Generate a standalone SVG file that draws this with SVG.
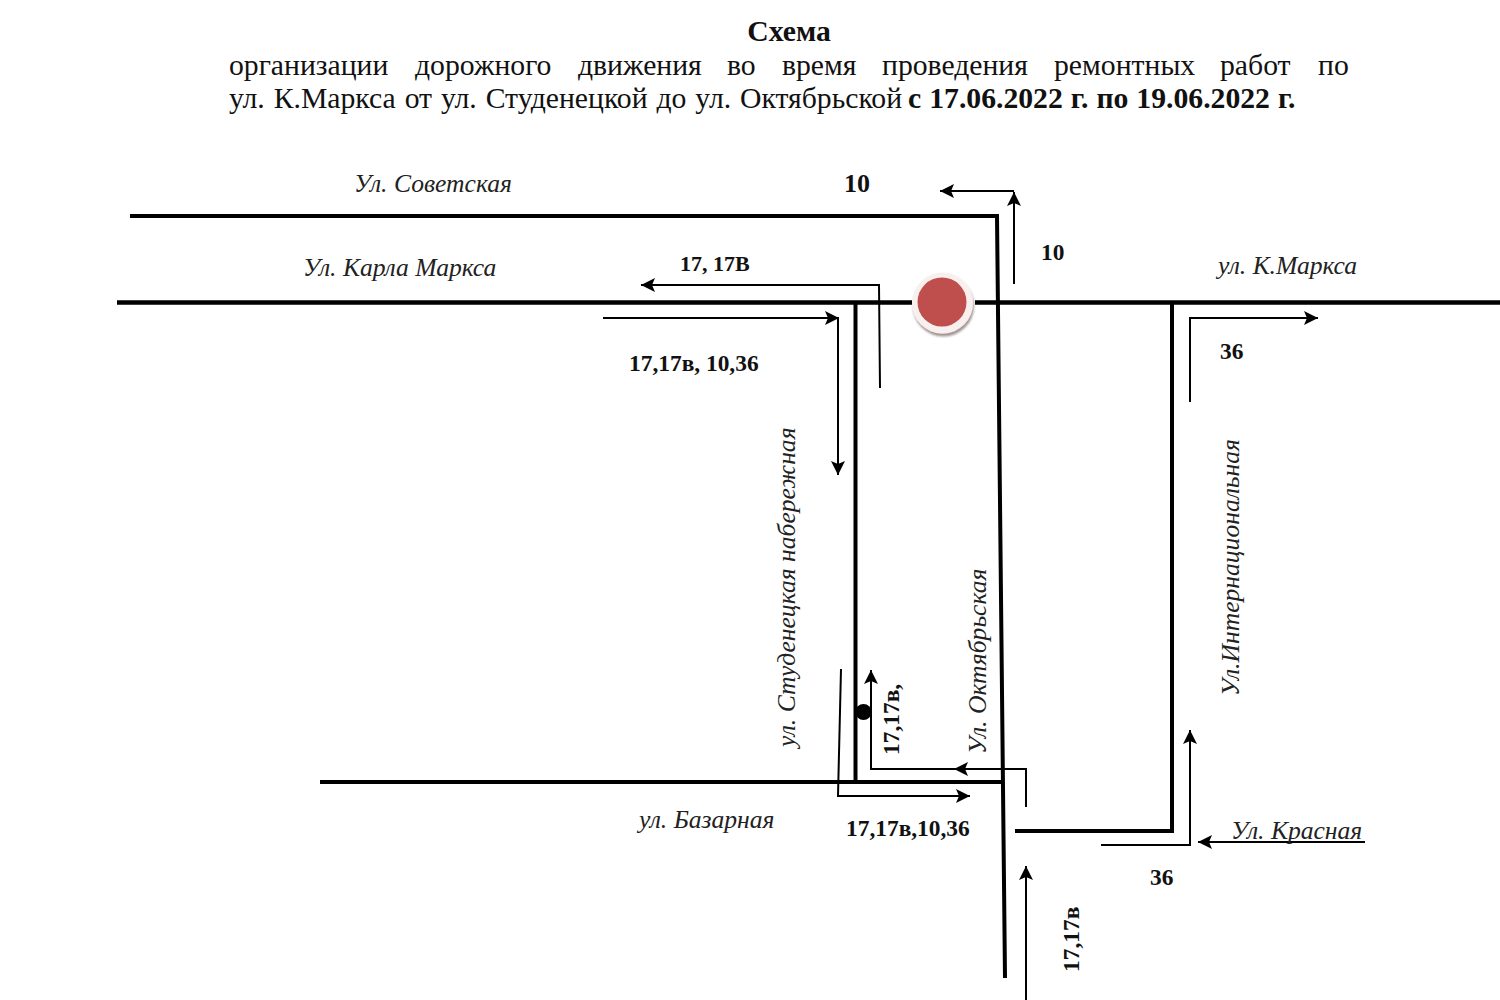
<svg xmlns="http://www.w3.org/2000/svg" width="1500" height="1000" viewBox="0 0 1500 1000">
<style>
text{font-family:"Liberation Serif",serif;fill:#111}
.t{font-size:29.7px}
.b{font-weight:bold}
.n{font-size:23.4px;font-weight:bold}
.i{font-size:25.6px;font-style:italic;fill:#222}
.r{stroke:#000;fill:none;stroke-width:4}
.a{stroke:#000;fill:none;stroke-width:2;marker-end:url(#m)}
</style>
<defs>
<marker id="m" markerUnits="userSpaceOnUse" markerWidth="16" markerHeight="16" refX="14" refY="7" orient="auto"><path d="M0 0L14 7L0 14L3 7Z" fill="#000"/></marker>
<filter id="s" x="-30%" y="-30%" width="160%" height="160%"><feDropShadow dx="1" dy="3" stdDeviation="1" flood-color="#5a3a3a" flood-opacity="0.55"/></filter>
</defs>
<rect width="1500" height="1000" fill="#fff"/>
<g id="title">
<text class="t b" x="789" y="41" text-anchor="middle">Схема</text>
<text class="t" y="75"><tspan x="229">организации</tspan><tspan x="415">дорожного</tspan><tspan x="578">движения</tspan><tspan x="727">во</tspan><tspan x="782">время</tspan><tspan x="882">проведения</tspan><tspan x="1054">ремонтных</tspan><tspan x="1220">работ</tspan><tspan x="1318">по</tspan></text>
<text class="t" x="229" y="108" word-spacing="1.5">ул. К.Маркса от ул. Студенецкой до ул. Октябрьской <tspan class="b" x="908" word-spacing="0.6">с 17.06.2022 г. по 19.06.2022 г.</tspan></text>
</g>
<g id="connectors">
<path class="r" d="M130 216H997L1005 978"/>
<path class="r" style="stroke-width:4.500" d="M117 302.500H912M975 302.500H1500"/>
<path class="r" d="M855.500 302V782M320 782H1002"/>
<path class="r" d="M1172 302V831H1015"/>
<path class="a" d="M1014 284V192"/>
<path class="a" d="M1014 191H940"/>
<path class="a" d="M880 388L879 285H641"/>
<path class="a" d="M603 318H839"/>
<path class="a" d="M838 318V475"/>
<path class="a" d="M1190 402V318H1318"/>
<path class="a" d="M841 669L838 796H970"/>
<path class="a" d="M1026 807V769H954"/>
<path class="a" d="M955 769H871V670"/>
<path class="a" d="M1101 845H1190V730"/>
<path class="a" d="M1365 842H1198"/>
<path class="a" d="M1026 1000V866"/>
</g>
<g id="stop"><circle cx="942.500" cy="303" r="30.500" fill="#f8f0ee" filter="url(#s)"/><circle cx="942" cy="302" r="24.500" fill="#bf4f4d"/></g>
<circle id="dot" cx="863.500" cy="712" r="8" fill="#000"/>
<g id="labels">
<text class="i" x="354" y="192">Ул. Советская</text>
<text class="i" x="303" y="276">Ул. Карла Маркса</text>
<text class="i" x="1218" y="274">ул. К.Маркса</text>
<text class="i" x="639" y="828">ул. Базарная</text>
<text class="i" x="1231" y="839">Ул. Красная</text>
<text class="i" transform="translate(795 747) rotate(-90)">ул. Студенецкая набережная</text>
<text class="i" transform="translate(986 754) rotate(-90)">Ул. Октябрьская</text>
<text class="i" transform="translate(1239 696) rotate(-90)">Ул.Интернациональная</text>
<text class="n" x="844" y="192" style="font-size:26px">10</text>
<text class="n" x="1041" y="260">10</text>
<text class="n" x="680" y="271" style="font-size:22px">17, 17В</text>
<text class="n" x="629" y="371">17,17в, 10,36</text>
<text class="n" x="1220" y="359">36</text>
<text class="n" x="846" y="836">17,17в,10,36</text>
<text class="n" x="1150" y="885">36</text>
<text class="n" transform="translate(899 755) rotate(-90)">17,17в,</text>
<text class="n" transform="translate(1079 972) rotate(-90)">17,17в</text>
</g>
</svg>
